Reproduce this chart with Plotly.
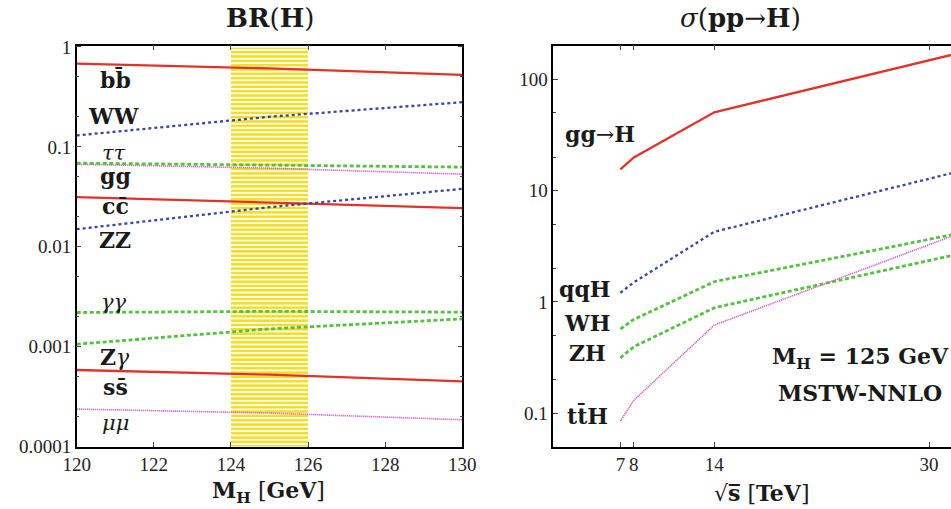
import plotly.graph_objects as go

# Higgs branching ratios vs mass
MH = [120, 125, 130]
BR_BB = [0.68, 0.61, 0.525]
BR_WW = [0.13, 0.20, 0.28]
BR_GG = [0.0687, 0.0656, 0.0627]
BR_TAUTAU = [0.067, 0.0612, 0.0533]
BR_CC = [0.0314, 0.0277, 0.0244]
BR_ZZ = [0.015, 0.0249, 0.038]
BR_GAMGAM = [0.00220, 0.00226, 0.00222]
BR_ZGAM = [0.00106, 0.00151, 0.0019]
BR_SS = [0.000585, 0.000525, 0.00045]
BR_MUMU = [0.000238, 0.000217, 0.000186]
MH_BAND = [124, 126]

# production cross sections vs sqrt(s), pb
SQRT_S = [7, 8, 14, 33]
XS_GGH = [15.5, 19.9, 50.6, 181]
XS_QQH = [1.21, 1.50, 4.27, 15.7]
XS_WH = [0.571, 0.697, 1.52, 4.3]
XS_ZH = [0.315, 0.396, 0.887, 2.83]
XS_TTH = [0.085, 0.131, 0.62, 4.46]

W, H = 951, 509
RED = '#e2332b'
BLUE = '#3446a6'
GREEN = '#55c23f'
MAGENTA = '#d75ad0'
YELLOW = '#f2e028'
SERIF = 'DejaVu Serif'
NUM = 'Liberation Serif'


def px(x):
    return x / W


def py(y):
    return 1 - y / H


fig = go.Figure()

# yellow hatched mass band
fig.add_trace(go.Scatter(
    x=[MH_BAND[0], MH_BAND[1], MH_BAND[1], MH_BAND[0], MH_BAND[0]],
    y=[1e-4, 1e-4, 0.98, 0.98, 1e-4], xaxis='x', yaxis='y',
    mode='none', fill='toself', fillcolor='rgba(0,0,0,0)',
    fillpattern=dict(shape='-', fgcolor=YELLOW, bgcolor='white', size=4.33,
                     solidity=0.6, fgopacity=1),
    hoverinfo='skip', showlegend=False))

SOLID = dict(dash='solid', width=2.3)
DOTTED = dict(dash='dot', width=2.3)
DASHED = dict(dash='4px,2.5px', width=2.8)
FINE = dict(dash='1.2px,0.8px', width=1.6)

br_lines = [
    (BR_BB, RED, SOLID),
    (BR_WW, BLUE, DOTTED),
    (BR_TAUTAU, MAGENTA, FINE),
    (BR_GG, GREEN, DASHED),
    (BR_CC, RED, SOLID),
    (BR_ZZ, BLUE, DOTTED),
    (BR_GAMGAM, GREEN, DASHED),
    (BR_ZGAM, GREEN, DASHED),
    (BR_SS, RED, SOLID),
    (BR_MUMU, MAGENTA, FINE),
]
for vals, col, style in br_lines:
    fig.add_trace(go.Scatter(x=MH, y=vals, xaxis='x', yaxis='y', mode='lines',
                             line=dict(color=col, **style), showlegend=False))

xs_lines = [
    (XS_GGH, RED, SOLID),
    (XS_QQH, BLUE, DOTTED),
    (XS_WH, GREEN, DASHED),
    (XS_ZH, GREEN, DASHED),
    (XS_TTH, MAGENTA, FINE),
]
for vals, col, style in xs_lines:
    fig.add_trace(go.Scatter(x=SQRT_S, y=vals, xaxis='x2', yaxis='y2', mode='lines',
                             line=dict(color=col, **style), showlegend=False))

axis_common = dict(showline=True, linecolor='black', linewidth=1.5, ticks='inside',
                   ticklen=5, tickwidth=1.2, tickcolor='#444', showgrid=False, zeroline=False,
                   automargin=False, tickfont=dict(family=NUM, size=19, color='#222'))
ydom = [py(446.7), py(45.7)]

fig.update_layout(
    width=W, height=H, margin=dict(l=0, r=0, t=0, b=0),
    plot_bgcolor='white', paper_bgcolor='white',
    xaxis=dict(axis_common, domain=[px(76.7), px(462.3)], range=[120, 130],
               tickvals=[120, 122, 124, 126, 128, 130], mirror='ticks', anchor='y'),
    yaxis=dict(axis_common, domain=ydom, type='log', range=[-4, 0.012], mirror='ticks',
               anchor='x', tickvals=[1e-4, 1e-3, 1e-2, 0.1, 1],
               ticktext=['0.0001', '0.001', '0.01', '0.1', '1'],
               minor=dict(ticks='inside', ticklen=3, tickcolor='#444',
                          tickvals=[2e-4, 5e-4, 2e-3, 5e-3, 2e-2, 5e-2, 0.2, 0.5])),
    xaxis2=dict(axis_common, domain=[px(553.3), 1], range=[2, 31.64],
                tickvals=[7, 8, 14, 30], mirror='ticks', anchor='y2'),
    yaxis2=dict(axis_common, domain=ydom, type='log', range=[-1.30, 2.302], anchor='x2',
                tickvals=[0.1, 1, 10, 100], ticktext=['0.1', '1', '10', '100'],
                minor=dict(ticks='inside', ticklen=3, tickcolor='#444',
                           tickvals=[0.2, 0.5, 2, 5, 20, 50])),
)

labels = [
    # left panel
    ('<b>bb\u0304</b>', 115, 79, 22),
    ('<b>WW</b>', 113, 116, 22),
    ('<i>ττ</i>', 114, 153, 21),
    ('<b>gg</b>', 115, 176, 22),
    ('<b>cc\u0304</b>', 115, 206, 22),
    ('<b>ZZ</b>', 115, 240, 22),
    ('<i>γγ</i>', 114, 302, 21),
    ('<b>Z</b><i>γ</i>', 115, 357, 22),
    ('<b>ss\u0304</b>', 115, 387, 22),
    ('<i>μμ</i>', 115, 423, 21),
    # right panel
    ('<b>gg</b>→<b>H</b>', 600, 134, 22),
    ('<b>qqH</b>', 585, 289, 22),
    ('<b>WH</b>', 587, 323, 22),
    ('<b>ZH</b>', 587, 353, 22),
    ('<b>tt\u0304H</b>', 587, 415, 22),
    ('<b>M<sub>H</sub> = 125 GeV</b>', 860, 358, 22),
    ('<b>MSTW-NNLO</b>', 860, 393, 22),
    # titles
    ('<b>BR</b>(<b>H</b>)', 270, 18, 26),
    ('<i>σ</i>(<b>pp</b>→<b>H</b>)', 740, 18, 26),
    ('<b>M<sub>H</sub></b> [<b>GeV</b>]', 268, 492, 22),
    ('√<b>s\u0305</b> [<b>TeV</b>]', 762, 493, 22),
]
for text, x, y, size in labels:
    fig.add_annotation(text=text, x=px(x), y=py(y), xref='paper', yref='paper',
                       showarrow=False, xanchor='center', yanchor='middle',
                       font=dict(family=SERIF, size=size, color='#1a1a1a'))

# drop the default page margin so the figure sits at the window corner
fig.write_html("out.html", config={'displayModeBar': False},
               post_script="document.body.style.margin = '0';")
